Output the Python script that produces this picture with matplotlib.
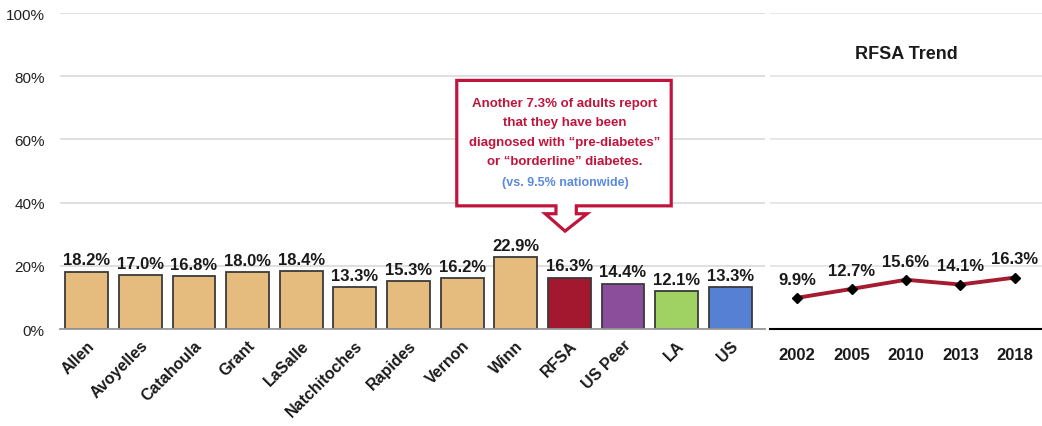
import matplotlib.pyplot as plt
from matplotlib.patches import Polygon

# data
areas = ["Allen", "Avoyelles", "Catahoula", "Grant", "LaSalle", "Natchitoches",
         "Rapides", "Vernon", "Winn", "RFSA", "US Peer", "LA", "US"]
rates = [18.2, 17.0, 16.8, 18.0, 18.4, 13.3, 15.3, 16.2, 22.9, 16.3, 14.4, 12.1, 13.3]
bar_colors = ["#E6BC7E"] * 9 + ["#A3182F", "#8B4E9A", "#9FD163", "#5580D4"]

years = ["2002", "2005", "2010", "2013", "2018"]
trend = [9.9, 12.7, 15.6, 14.1, 16.3]

plt.rcParams['font.family'] = ['Liberation Sans', 'DejaVu Sans']

fig = plt.figure(figsize=(10.42, 4.27), dpi=100)
ax = fig.add_axes([0.0576, 0.227, 0.6766, 0.740])
ax2 = fig.add_axes([0.739, 0.227, 0.261, 0.740])

# left bar chart
x = range(len(areas))
ax.bar(x, rates, width=0.8, color=bar_colors, edgecolor="#3a3a3a", linewidth=1.3, zorder=3)
for xi, v in zip(x, rates):
    ax.annotate(f"{v:.1f}%", (xi, v), xytext=(0, 3), textcoords="offset points",
                ha="center", va="bottom", fontsize=12, fontweight="bold", color="#1a1a1a")
ax.set_ylim(0, 100)
ax.set_xlim(-0.5, 12.65)
ax.set_yticks(range(0, 101, 20))
ax.set_yticklabels([f"{t}%" for t in range(0, 101, 20)], fontsize=11, color="#222222")
ax.set_xticks(list(x))
ax.set_xticklabels(areas, rotation=45, ha="right", rotation_mode="anchor",
                   fontsize=11.5, fontweight="bold", color="#1a1a1a")
ax.tick_params(axis="both", length=0)
ax.tick_params(axis="x", pad=6)
ax.tick_params(axis="y", pad=11)
ax.grid(axis="y", color="#d9d9d9", linewidth=1.2, zorder=0)
for s in ["top", "right", "left"]:
    ax.spines[s].set_visible(False)
ax.spines["bottom"].set_color("#999999")
ax.spines["bottom"].set_linewidth(1.3)
ax.spines["bottom"].set_zorder(4)

# callout box with down arrow
red = "#C0143C"
box = [(6.9, 78.7), (10.9, 78.7), (10.9, 39.0), (9.13, 39.0), (9.13, 36.5),
       (9.33, 36.5), (8.92, 31.0), (8.55, 36.5), (8.75, 36.5), (8.75, 39.0), (6.9, 39.0)]
ax.add_patch(Polygon(box, closed=True, facecolor="white", edgecolor=red,
                     linewidth=2.3, zorder=5, clip_on=False))
callout = ["Another 7.3% of adults report", "that they have been",
           "diagnosed with \u201cpre-diabetes\u201d", "or \u201cborderline\u201d diabetes."]
for i, line in enumerate(callout):
    ax.text(8.92, 71.5 - i * 6.1, line, ha="center", va="center", fontsize=9.5,
            fontweight="bold", color=red, zorder=6)
ax.text(8.92, 46.6, "(vs. 9.5% nationwide)", ha="center", va="center", fontsize=9,
        fontweight="bold", color="#5B8BE0", zorder=6)

# right trend chart
xt = range(len(years))
ax2.plot(xt, trend, color="#A51C30", linewidth=2.8, marker="D", markersize=5.5,
         markerfacecolor="black", markeredgecolor="black", zorder=3)
for xi, v in zip(xt, trend):
    ax2.annotate(f"{v:.1f}%", (xi, v), xytext=(0, 8), textcoords="offset points",
                 ha="center", va="bottom", fontsize=12, fontweight="bold", color="#1a1a1a")
ax2.set_ylim(0, 100)
ax2.set_xlim(-0.5, 4.5)
ax2.set_yticks(range(20, 101, 20))
ax2.set_yticklabels([])
ax2.set_xticks(list(xt))
ax2.set_xticklabels(years, fontsize=12, fontweight="bold", color="#1a1a1a")
ax2.tick_params(axis="both", length=0)
ax2.tick_params(axis="x", pad=13)
ax2.grid(axis="y", color="#e3e3e3", linewidth=1.2, zorder=0)
for s in ["top", "right", "left"]:
    ax2.spines[s].set_visible(False)
ax2.spines["bottom"].set_color("black")
ax2.spines["bottom"].set_linewidth(1.5)
ax2.set_title("RFSA Trend", fontsize=13, fontweight="bold", pad=-32, y=1.0, color="#1a1a1a")

fig.savefig("out.png", dpi=100)
